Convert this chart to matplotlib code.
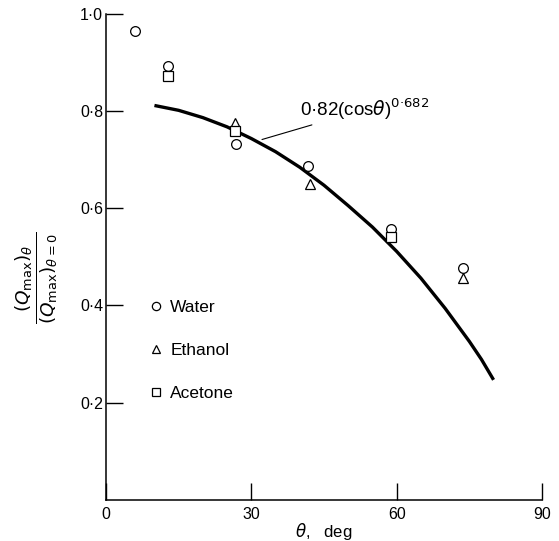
import matplotlib
matplotlib.use('Agg')
import matplotlib.pyplot as plt
from matplotlib.ticker import FixedLocator, FixedFormatter

plt.rcParams['font.family'] = ['Liberation Sans', 'DejaVu Sans']
plt.rcParams['mathtext.fontset'] = 'dejavusans'

# measured points, theta in deg
water_theta = [6.0, 12.8, 26.9, 41.7, 58.8, 73.6]
water_q = [0.964, 0.892, 0.731, 0.687, 0.558, 0.476]
ethanol_theta = [26.7, 42.2, 73.6]
ethanol_q = [0.775, 0.650, 0.456]
acetone_theta = [12.8, 26.7, 58.8]
acetone_q = [0.872, 0.758, 0.541]

# correlation curve
curve_theta = [10, 15, 20, 25, 30, 35, 40, 45, 50, 55, 60, 65, 70, 75, 77.5, 80]
curve_q = [0.811, 0.801, 0.786, 0.767, 0.743, 0.716, 0.684, 0.647, 0.605,
           0.561, 0.511, 0.456, 0.394, 0.326, 0.289, 0.247]

x_ticks = [0, 30, 60, 90]
x_labels = ['0', '30', '60', '90']
y_ticks = [0.2, 0.4, 0.6, 0.8, 1.0]
y_labels = ['0·2', '0·4', '0·6', '0·8', '1·0']

fig = plt.figure(figsize=(5.59, 5.41), dpi=100)
ax = fig.add_axes([0.1896, 0.0758, 0.78, 0.8992])

ax.plot(curve_theta, curve_q, color='black', lw=2.4, solid_capstyle='butt')

mk = dict(linestyle='none', markerfacecolor='white', markeredgecolor='black',
          markeredgewidth=0.9, color='black')
ax.plot(water_theta, water_q, marker='o', markersize=7, label='Water', **mk)
ax.plot(ethanol_theta, ethanol_q, marker='^', markersize=7.5, label='Ethanol', **mk)
ax.plot(acetone_theta, acetone_q, marker='s', markersize=6.5, label='Acetone', **mk)

ax.annotate(r'0·82(cos$\theta$)$^{0·682}$', xy=(32.2, 0.741), xytext=(40.1, 0.803),
            fontsize=13.5, ha='left', va='center',
            arrowprops=dict(arrowstyle='-', lw=0.8, color='black', shrinkA=0, shrinkB=0))

leg = ax.legend(loc='upper left', bbox_to_anchor=(0.082, 0.425), frameon=False,
                fontsize=12.5, handlelength=0.8, handletextpad=0.45,
                labelspacing=1.6, markerscale=0.85, borderaxespad=0)

ax.set_xlim(0, 90)
ax.set_ylim(0, 1.0)
ax.spines['top'].set_visible(False)
ax.spines['right'].set_visible(False)
for s in ('left', 'bottom'):
    ax.spines[s].set_linewidth(1.1)

ax.xaxis.set_major_locator(FixedLocator(x_ticks))
ax.xaxis.set_major_formatter(FixedFormatter(x_labels))
ax.yaxis.set_major_locator(FixedLocator(y_ticks))
ax.yaxis.set_major_formatter(FixedFormatter(y_labels))
ax.tick_params(direction='in', length=12, width=1.0, labelsize=11.5)
ax.tick_params(axis='x', pad=5)
ax.tick_params(axis='y', pad=2)

ax.set_xlabel(r'$\theta$,   deg', fontsize=12, labelpad=-1)
ax.text(-0.158, 0.456,
        r'$\frac{(Q_{\mathrm{max}})_{\theta}}{(Q_{\mathrm{max}})_{\theta=0}}$',
        transform=ax.transAxes, rotation=90, ha='center', va='center', fontsize=19)

fig.savefig('out.png', dpi=100)
